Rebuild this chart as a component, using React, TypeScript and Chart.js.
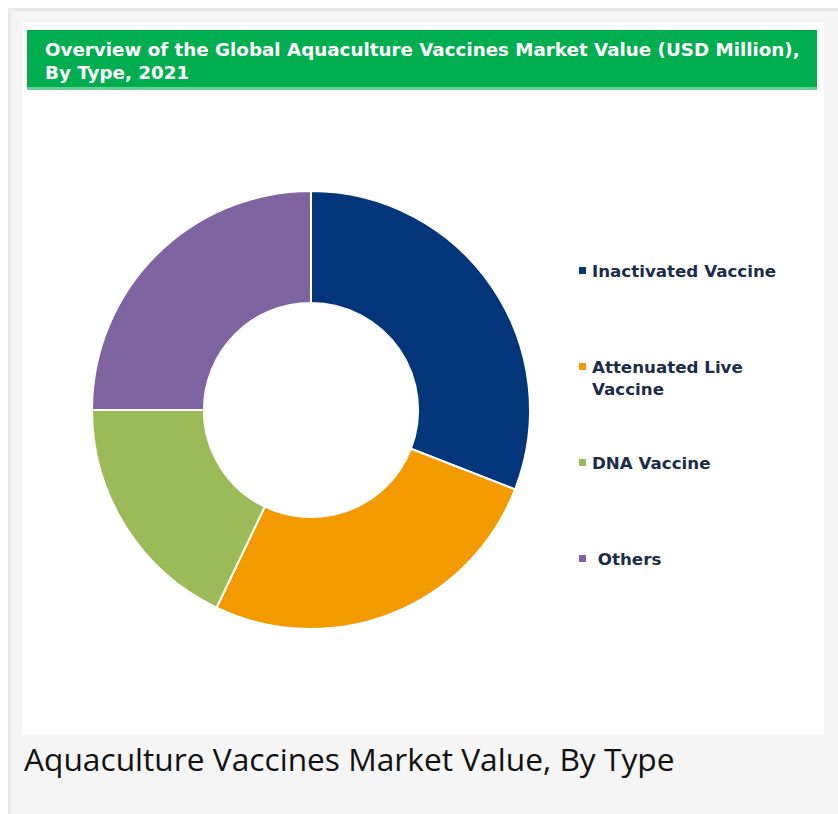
import React, { useEffect, useRef } from "react";
import { Chart, registerables } from "chart.js";

Chart.register(...registerables);

const titleLines = [
  "Overview of the Global Aquaculture Vaccines Market Value (USD Million),",
  "By Type, 2021",
];
const caption = "Aquaculture Vaccines Market Value, By Type";
const categories = ["Inactivated Vaccine", "Attenuated Live Vaccine", "DNA Vaccine", "Others"];
const legendLines = [["Inactivated Vaccine"], ["Attenuated Live", "Vaccine"], ["DNA Vaccine"], [" Others"]];
const shares = [30.9, 26.2, 17.9, 25.0];
const colors = ["#03357A", "#F29A00", "#9BBB59", "#8064A2"];

export default function App() {
  const ref = useRef<HTMLCanvasElement | null>(null);

  useEffect(() => {
    if (!ref.current) return;
    const chart = new Chart(ref.current, {
      type: "doughnut",
      data: {
        labels: categories,
        datasets: [
          {
            data: shares,
            backgroundColor: colors,
            borderColor: "#ffffff",
            borderWidth: 2,
          },
        ],
      },
      options: {
        responsive: false,
        animation: false,
        devicePixelRatio: 1,
        radius: 219,
        cutout: 112,
        rotation: 0,
        layout: { padding: 0 },
        plugins: {
          legend: { display: false },
          tooltip: { enabled: false },
          title: { display: false },
        },
      } as any,
    });
    return () => chart.destroy();
  }, []);

  return (
    <div
      style={{
        position: "absolute",
        left: 0,
        top: 0,
        width: 838,
        height: 814,
        background: "#ffffff",
        overflow: "hidden",
      }}
    >
      <div
        style={{
          position: "absolute",
          left: 8,
          top: 8,
          width: 840,
          height: 820,
          background: "#f5f5f5",
          border: "3px solid #e8e8e8",
          boxSizing: "border-box",
        }}
      />
      <div
        style={{
          position: "absolute",
          left: 22,
          top: 22,
          width: 802,
          height: 713,
          background: "#ffffff",
        }}
      />
      <div
        style={{
          position: "absolute",
          left: 27,
          top: 30,
          width: 790,
          height: 57,
          background: "#00AE4F",
          borderBottom: "3px solid #66D196",
        }}
      />
      <div
        style={{
          position: "absolute",
          left: 45,
          top: 38,
          color: "#ffffff",
          fontFamily: "'DejaVu Sans', sans-serif",
          fontWeight: 700,
          fontSize: 18.3,
          lineHeight: "23px",
          whiteSpace: "pre",
        }}
      >
        {titleLines.map((t, i) => (
          <div key={i}>{t}</div>
        ))}
      </div>
      <canvas
        ref={ref}
        width={460}
        height={460}
        style={{ position: "absolute", left: 81, top: 180, width: 460, height: 460 }}
      />
      {legendLines.map((lines, i) => (
        <div
          key={i}
          style={{
            position: "absolute",
            left: 579,
            top: 260 + i * 96,
            fontFamily: "'DejaVu Sans', sans-serif",
            fontWeight: 700,
            fontSize: 16.7,
            lineHeight: "22px",
            color: "#1C2B4A",
            whiteSpace: "pre",
          }}
        >
          <div
            style={{
              position: "absolute",
              left: 0,
              top: 7,
              width: 7,
              height: 7,
              background: colors[i],
            }}
          />
          <div style={{ marginLeft: 13 }}>
            {lines.map((l, j) => (
              <div key={j}>{l}</div>
            ))}
          </div>
        </div>
      ))}
      <div
        style={{
          position: "absolute",
          left: 24,
          top: 737,
          fontFamily: "'Open Sans', sans-serif",
          fontSize: 31.7,
          lineHeight: "44px",
          color: "#111111",
          whiteSpace: "pre",
        }}
      >
        {caption}
      </div>
    </div>
  );
}
